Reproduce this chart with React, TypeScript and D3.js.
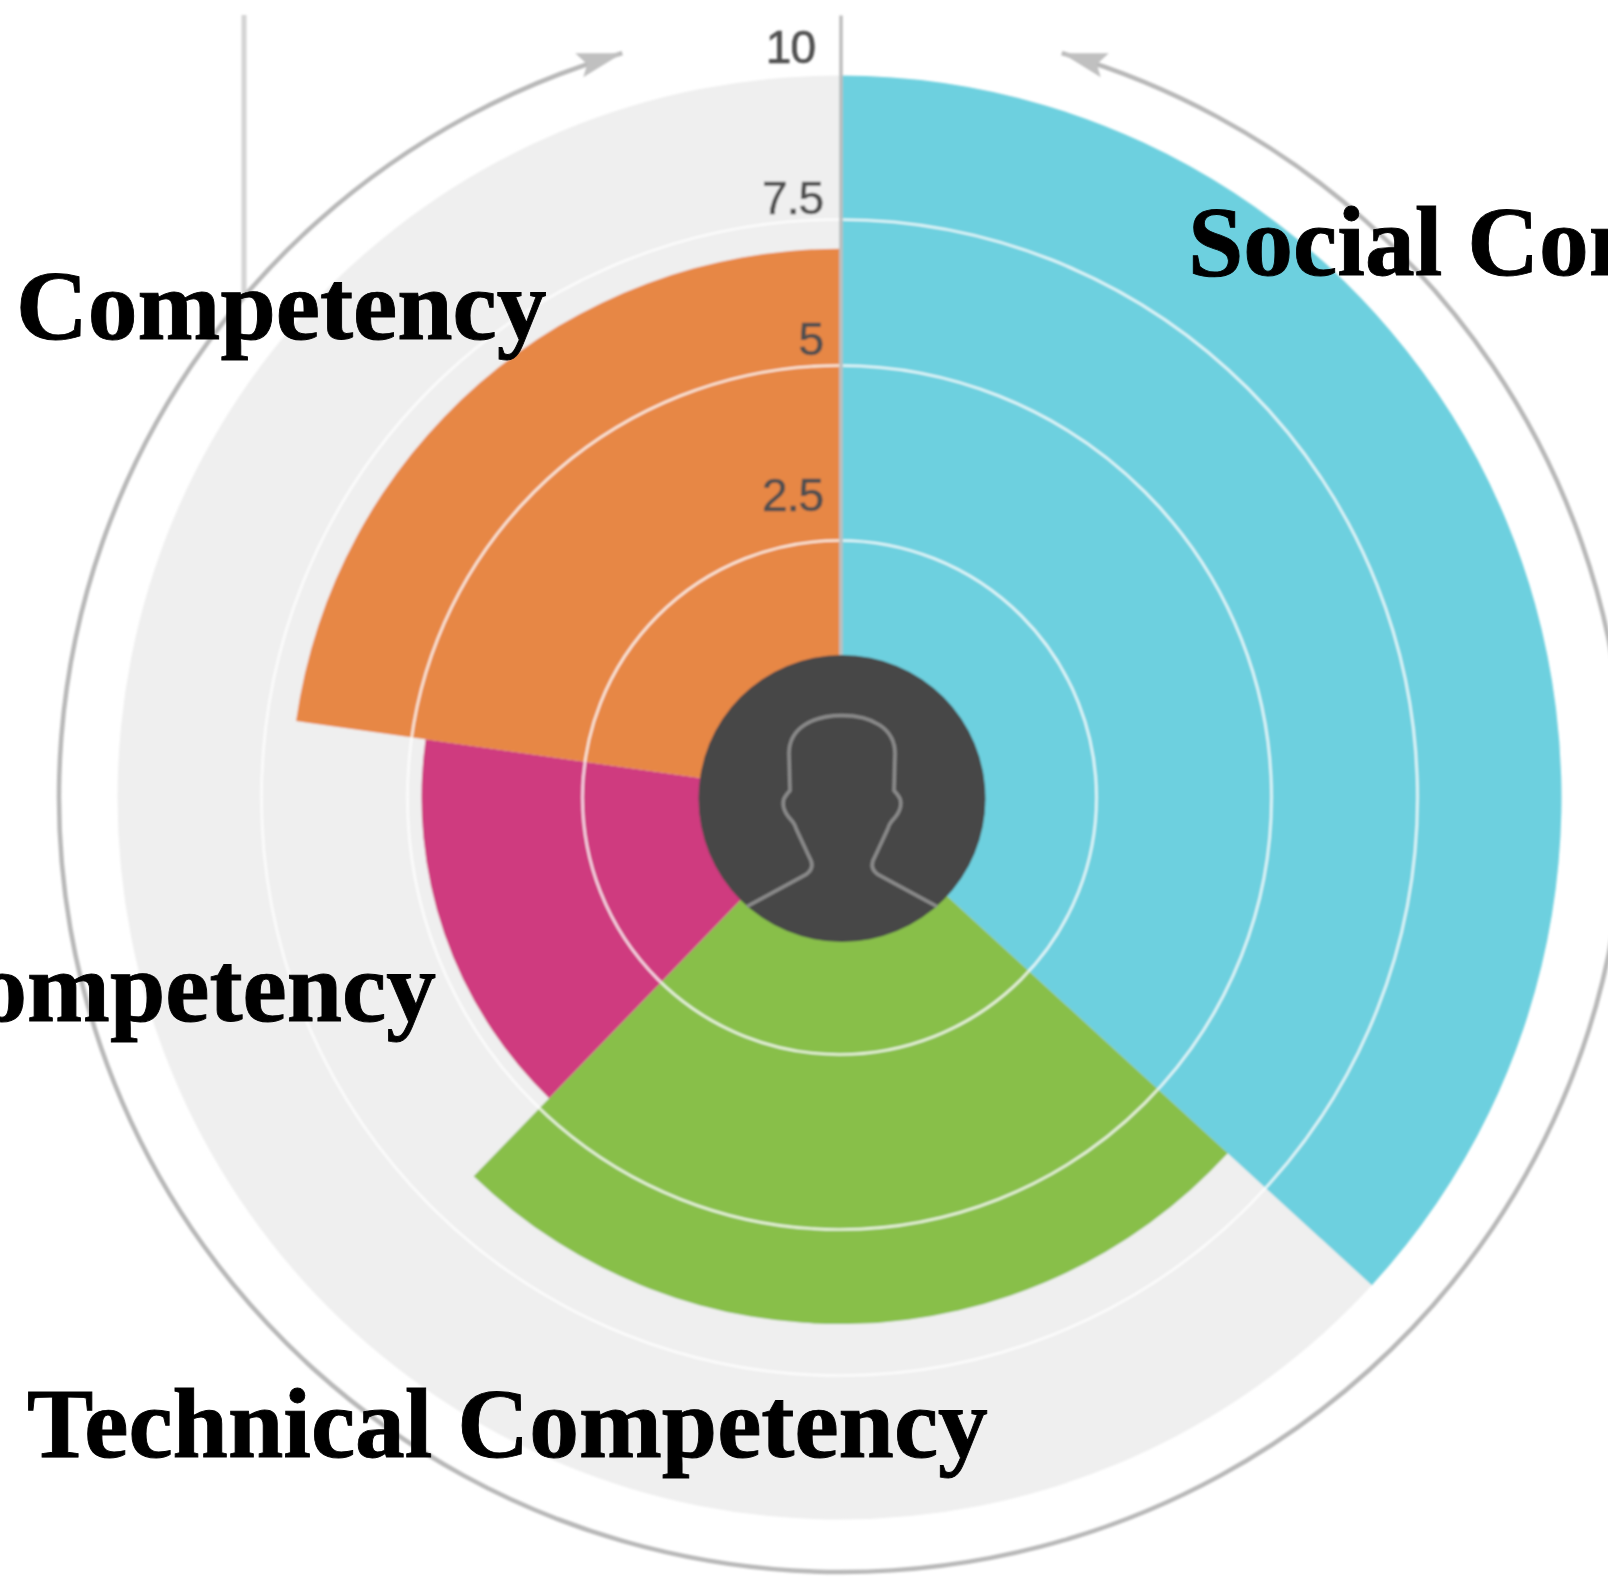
import React from 'react';
import * as d3 from 'd3';

// segment widths in degrees, clockwise from 12 o'clock
const segmentNames = ['Social', 'Technical', 'Methodical', 'Personal'];
const segmentAngles = [132.5, 91.5, 54, 82];
const segmentValues = [10, 6.62, 4.8, 7];
const segmentColors = ['#6dd0df', '#88bf49', '#cf3a7f', '#e78744'];
const ticks = [2.5, 5, 7.5, 10];
const tickLabels = ['2.5', '5', '7.5', '10'];

const width = 1608, height = 1579;
const cx = 839.5, cy = 797.5;
const holeX = 842, holeY = 798.5, holeR = 143.5;
const ringCy = 797, ringRx = 783, ringRy = 775;
const arrowAngle = 16.3 * Math.PI / 180;

// the rings are not evenly spaced in the picture
const r = d3.scaleLinear().domain([0, 2.5, 5, 7.5, 10]).range([holeR, 257, 432, 578, 722]);
const labelY = d3.scaleLinear().domain(ticks).range([511, 355, 214, 63]);

const pie = d3.pie<number>().sort(null).value(d => d);
const arcs = pie(segmentAngles);
const arc = d3.arc<any>();

const ring = d3.path();
ring.arc(0, 0, ringRx, -Math.PI / 2 - arrowAngle, -Math.PI / 2 + arrowAngle, true);

const head = 'M0,0 L-47,0 L-35,11 L-39,24 Z';
const person = 'M-95,108 L-36,76 Q-26,69 -33,58 L-46,30 Q-47,25 -53,19 Q-61,9 -58,0 Q-55,-5 -52,-8 L-53,-45 C-53,-70 -30,-83 0,-83 C30,-83 53,-70 53,-45 L52,-8 Q55,-5 58,0 Q61,9 53,19 Q47,25 46,30 L33,58 Q26,69 36,76 L95,108';

const labelStyle = { fontFamily: '"Liberation Serif", serif', fontWeight: 700, fontSize: 99.5, fill: '#000', stroke: '#000', strokeWidth: 0.9 };

export default function App() {
  const tipX = ringRx * Math.sin(arrowAngle);
  const tipY = -ringRy * Math.cos(arrowAngle);
  return (
    <svg width={width} height={height} style={{ position: 'absolute', left: 0, top: 0, background: '#fff' }}>
      <defs>
        <filter id="soft" x="-5%" y="-5%" width="110%" height="110%">
          <feGaussianBlur stdDeviation="1.2" />
        </filter>
      </defs>
      <g filter="url(#soft)">
        <line x1={244} x2={244} y1={15} y2={297} stroke="#d4d4d4" strokeWidth={5} />
        <g transform={`translate(${holeX},${ringCy}) scale(1,${ringRy / ringRx})`}>
          <path d={ring.toString()} fill="none" stroke="#b8b8b8" strokeWidth={4.5} />
        </g>
        <g transform={`translate(${holeX},${ringCy})`}>
          <path d={head} transform={`translate(${-tipX},${tipY})`} fill="#c0c0c0" />
          <path d={head} transform={`translate(${tipX},${tipY}) scale(-1,1)`} fill="#c0c0c0" />
        </g>
        <g transform={`translate(${cx},${cy})`}>
          <circle r={r(10)} fill="#efefef" />
          {arcs.map((d, i) => (
            <path
              key={segmentNames[i]}
              d={arc({ innerRadius: 0, outerRadius: r(segmentValues[i]), startAngle: d.startAngle, endAngle: d.endAngle })!}
              fill={segmentColors[i]}
            />
          ))}
          {ticks.slice(0, 3).map(t => (
            <circle key={t} r={r(t)} fill="none" stroke="#fff" strokeOpacity={0.8} strokeWidth={2.6} />
          ))}
        </g>
        <g transform={`translate(${holeX},${holeY})`}>
          <line x1={-1} x2={-1} y1={-783} y2={-holeR} stroke="#bdbdbd" strokeWidth={3.5} />
          <circle r={holeR} fill="#474747" />
          <path d={person} fill="none" stroke="#8b8b8b" strokeWidth={3.5} />
        </g>
        {ticks.map((t, i) => (
          <text
            key={t}
            x={t === 10 ? 815 : 823}
            y={labelY(t)}
            textAnchor="end"
            fontFamily='"Liberation Sans", sans-serif'
            fontSize={46}
            letterSpacing={-1}
            fill="#505050"
            stroke="#505050"
            strokeWidth={0.7}
          >
            {tickLabels[i]}
          </text>
        ))}
      </g>
      <text x={1188} y={275} style={labelStyle}>Social Competency</text>
      <text x={16} y={339} style={labelStyle}>Competency</text>
      <text x={436} y={1021} textAnchor="end" style={labelStyle}>Competency</text>
      <text x={27} y={1457} style={labelStyle}>Technical Competency</text>
    </svg>
  );
}
